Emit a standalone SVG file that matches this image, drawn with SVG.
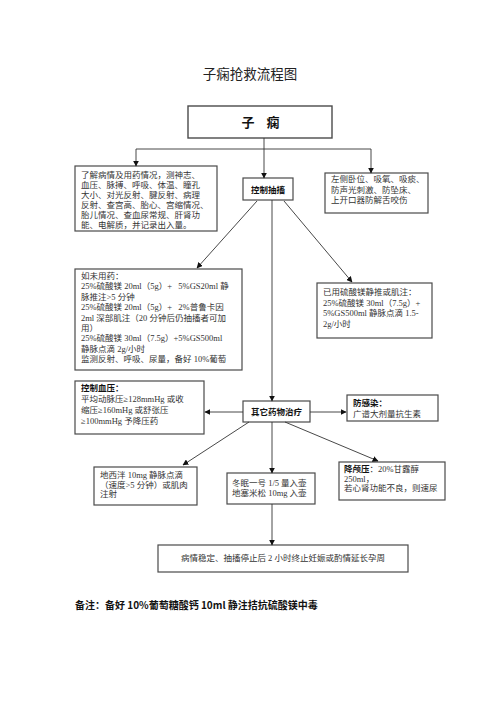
<svg xmlns="http://www.w3.org/2000/svg" width="500" height="708" viewBox="0 0 500 708">
<defs>
<marker id="arr" viewBox="0 0 10 10" refX="9" refY="5" markerWidth="6" markerHeight="6" markerUnits="userSpaceOnUse" orient="auto">
<path d="M0,0 L10,5 L0,10 z" fill="#111"/>
</marker>
<style>
.box{fill:#fff;stroke:#4a4a4a;stroke-width:1.2}
.t{font-family:"Liberation Serif","Noto Sans CJK SC",serif;font-size:8.5px;fill:#333}
.b{font-family:"Noto Sans CJK SC",sans-serif;font-weight:bold;fill:#111}
.c{text-anchor:middle}
.ln{fill:none;stroke:#333;stroke-width:0.9}
</style>
</defs>
<rect width="500" height="708" fill="#fff"/>
<text x="250" y="79" class="t c" style="font-size:13.5px;fill:#222">子痫抢救流程图</text>

<g id="n-zixian">
<rect class="box" x="188" y="106" width="144" height="32" style="stroke-width:1.4"/>
<text x="248" y="127" class="b c" style="font-size:13px">子</text>
<text x="273" y="127" class="b c" style="font-size:13px">痫</text>
</g>

<g id="n-assess">
<rect class="box" x="75" y="166" width="142" height="65"/>
<text class="t" x="81" y="178">了解病情及用药情况，测神志、</text>
<text class="t" x="81" y="188">血压、脉搏、呼吸、体温、瞳孔</text>
<text class="t" x="81" y="198">大小、对光反射、腱反射、病理</text>
<text class="t" x="81" y="208">反射、查宫高、胎心、宫缩情况、</text>
<text class="t" x="81" y="218">胎儿情况、查血尿常规、肝肾功</text>
<text class="t" x="81" y="228">能、电解质，并记录出入量。</text>
</g>

<g id="n-control">
<rect class="box" x="243" y="178" width="50" height="22"/>
<text x="268" y="192.5" class="b c" style="font-size:8.5px">控制抽搐</text>
</g>

<g id="n-position">
<rect class="box" x="325" y="173" width="103" height="40"/>
<text class="t" x="331" y="182">左侧卧位、吸氧、吸痰、</text>
<text class="t" x="331" y="192.5">防声光刺激、防坠床、</text>
<text class="t" x="331" y="203">上开口器防解舌咬伤</text>
</g>

<g id="n-mgso4">
<rect class="box" x="75" y="269" width="167" height="101"/>
<text class="t" x="81" y="279">如未用药：</text>
<text class="t" x="81" y="289.4" xml:space="preserve">25%硫酸镁 20ml（5g）+   5%GS20ml 静</text>
<text class="t" x="81" y="299.8">脉推注&gt;5 分钟</text>
<text class="t" x="81" y="310.2" xml:space="preserve">25%硫酸镁 20ml（5g）+   2%普鲁卡因</text>
<text class="t" x="81" y="320.6">2ml 深部肌注（20 分钟后仍抽搐者可加</text>
<text class="t" x="81" y="331">用）</text>
<text class="t" x="81" y="341.4">25%硫酸镁 30ml（7.5g）+5%GS500ml</text>
<text class="t" x="81" y="351.8">静脉点滴 2g/小时</text>
<text class="t" x="81" y="362.2">监测反射、呼吸、尿量，备好 10%葡萄</text>
</g>

<g id="n-used">
<rect class="box" x="317" y="283" width="115" height="55"/>
<text class="t" x="323" y="295">已用硫酸镁静推或肌注：</text>
<text class="t" x="323" y="305.5">25%硫酸镁 30ml（7.5g）+</text>
<text class="t" x="323" y="316">5%GS500ml 静脉点滴 1.5-</text>
<text class="t" x="323" y="326.5">2g/小时</text>
</g>

<g id="n-bp">
<rect class="box" x="75" y="381" width="129" height="53"/>
<text class="b" x="81" y="391" style="font-size:8.5px">控制血压：</text>
<text class="t" x="81" y="402">平均动脉压≥128mmHg 或收</text>
<text class="t" x="81" y="413">缩压≥160mHg 或舒张压</text>
<text class="t" x="81" y="424">≥100mmHg 予降压药</text>
</g>

<g id="n-other">
<rect class="box" x="243" y="401" width="67" height="21"/>
<text x="276.5" y="415" class="b c" style="font-size:8.5px">其它药物治疗</text>
</g>

<g id="n-infect">
<rect class="box" x="347" y="395" width="91" height="26"/>
<text class="b" x="353" y="406" style="font-size:8.5px">防感染：</text>
<text class="t" x="353" y="416.5">广谱大剂量抗生素</text>
</g>

<g id="n-diazepam">
<rect class="box" x="94" y="467" width="103" height="38"/>
<text class="t" x="100" y="478">地西泮 10mg 静脉点滴</text>
<text class="t" x="100" y="487.5">（速度&gt;5 分钟）或肌肉</text>
<text class="t" x="100" y="497">注射</text>
</g>

<g id="n-hibernate">
<rect class="box" x="227" y="473" width="88" height="31"/>
<text class="t" x="232" y="486">冬眠一号 1/5 量入壶</text>
<text class="t" x="232" y="495.5">地塞米松 10mg 入壶</text>
</g>

<g id="n-icp">
<rect class="box" x="339" y="462" width="106" height="38"/>
<text class="t" x="344" y="472"><tspan class="b">降颅压</tspan>：20%甘露醇</text>
<text class="t" x="344" y="481.5">250ml，</text>
<text class="t" x="344" y="491">若心肾功能不良，则速尿</text>
</g>

<g id="n-end">
<rect class="box" x="158" y="545" width="250" height="27"/>
<text class="t c" x="283" y="561">病情稳定、抽搐停止后 2 小时终止妊娠或酌情延长孕周</text>
</g>

<g id="connectors">
<path class="ln" d="M264,138 V149 M136,149 H371"/>
<path class="ln" d="M136,149 V166" marker-end="url(#arr)"/>
<path class="ln" d="M371,149 V173" marker-end="url(#arr)"/>
<path class="ln" d="M264,149 V178" marker-end="url(#arr)"/>
<path class="ln" d="M257,201 L197,268" marker-end="url(#arr)"/>
<path class="ln" d="M272,200 V401" marker-end="url(#arr)"/>
<path class="ln" d="M284,201 L352,282" marker-end="url(#arr)"/>
<path class="ln" d="M243,412 H205" marker-end="url(#arr)"/>
<path class="ln" d="M310,412 H346" marker-end="url(#arr)"/>
<path class="ln" d="M249,422 L183,465" marker-end="url(#arr)"/>
<path class="ln" d="M272,422 V473" marker-end="url(#arr)"/>
<path class="ln" d="M285,422 L378,461" marker-end="url(#arr)"/>
<path class="ln" d="M272,504 V545" marker-end="url(#arr)"/>
</g>

<text x="75" y="609" class="b" style="font-size:10px">备注：备好 10%葡萄糖酸钙 10ml 静注拮抗硫酸镁中毒</text>
</svg>
